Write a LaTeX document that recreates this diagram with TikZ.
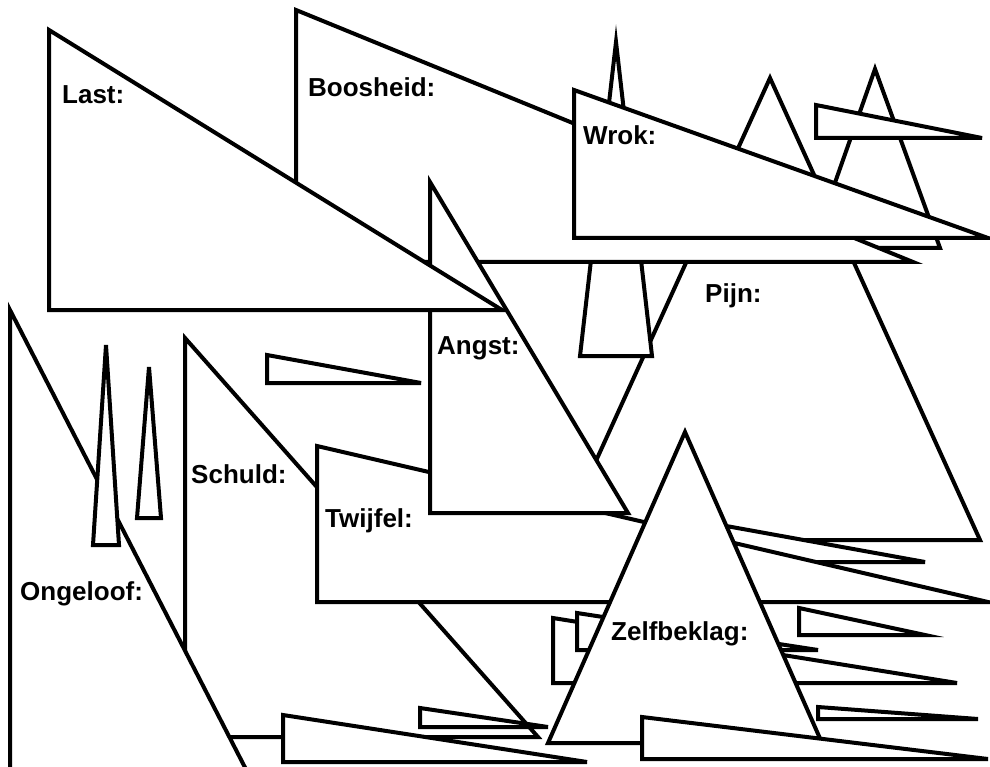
\documentclass[tikz,border=0pt]{standalone}
\usepackage{fontspec}
\setmainfont{Liberation Sans}
\begin{document}
\begin{tikzpicture}[x=1pt,y=-1pt,
  tri/.style={draw=black, fill=white, line width=4pt, line join=miter},
  lbl/.style={anchor=base west, inner sep=0pt, font=\fontsize{26}{30}\selectfont\bfseries}]
\useasboundingbox (0,0) rectangle (990,767);
\fill[white] (0,0) rectangle (990,767);
\clip (0,0) rectangle (990,767);
% back layer (top right)
\draw[tri] (875,69) -- (812,248) -- (940,248) -- cycle;
\draw[tri] (816,105) -- (816,138) -- (982,138) -- cycle;
\draw[tri] (770,78) -- (560,540) -- (980,540) -- cycle;
\draw[tri] (616,42) -- (580,356) -- (652,356) -- cycle;
\draw[tri] (296,10) -- (296,262) -- (913,262) -- cycle;
\draw[tri] (574,90) -- (574,238) -- (988,238) -- cycle;
\draw[tri] (660,514) -- (660,562) -- (925,562) -- cycle;
% middle
\draw[tri] (185,338) -- (185,737) -- (538,737) -- cycle;
\draw[tri] (317,446) -- (317,602) -- (988,602) -- cycle;
\draw[tri] (430,182) -- (430,513) -- (628,513) -- cycle;
\draw[tri] (49,30) -- (49,310) -- (502,310) -- cycle;
\draw[tri] (10,310) -- (10,820) -- (272,820) -- cycle;
\draw[tri] (106,345) -- (93,545) -- (119,545) -- cycle;
\draw[tri] (149,367) -- (137,518) -- (161,518) -- cycle;
\draw[tri] (267,355) -- (267,383) -- (421,383) -- cycle;
% bottom
\draw[tri] (420,708) -- (420,727) -- (548,727) -- cycle;
\draw[tri] (283,715) -- (283,762) -- (587,762) -- cycle;
\draw[tri] (553,618) -- (553,683) -- (957,683) -- cycle;
\draw[tri] (577,613) -- (577,650) -- (818,650) -- cycle;
\draw[tri] (685,432) -- (548,743) -- (822,743) -- cycle;
\draw[tri] (642,717) -- (642,759) -- (988,759) -- cycle;
\draw[tri] (799,608) -- (799,635) -- (925,635) -- cycle;
\draw[tri] (818,707) -- (818,719) -- (978,719) -- cycle;
% labels
\node[lbl] (last) at (62,104) {Last:};
\node[lbl] (boos) at (308,97) {Boosheid:};
\node[lbl] (wrok) at (583,145) {Wrok:};
\node[lbl] (pijn) at (705,302) {Pijn:};
\node[lbl] (angst) at (437,354) {Angst:};
\node[lbl] (schuld) at (191,483) {Schuld:};
\node[lbl] (twijfel) at (325,527) {Twijfel:};
\node[lbl] (ongeloof) at (20,600) {Ongeloof:};
\node[lbl] (zelf) at (611,640) {Zelfbeklag:};
\end{tikzpicture}
\end{document}
